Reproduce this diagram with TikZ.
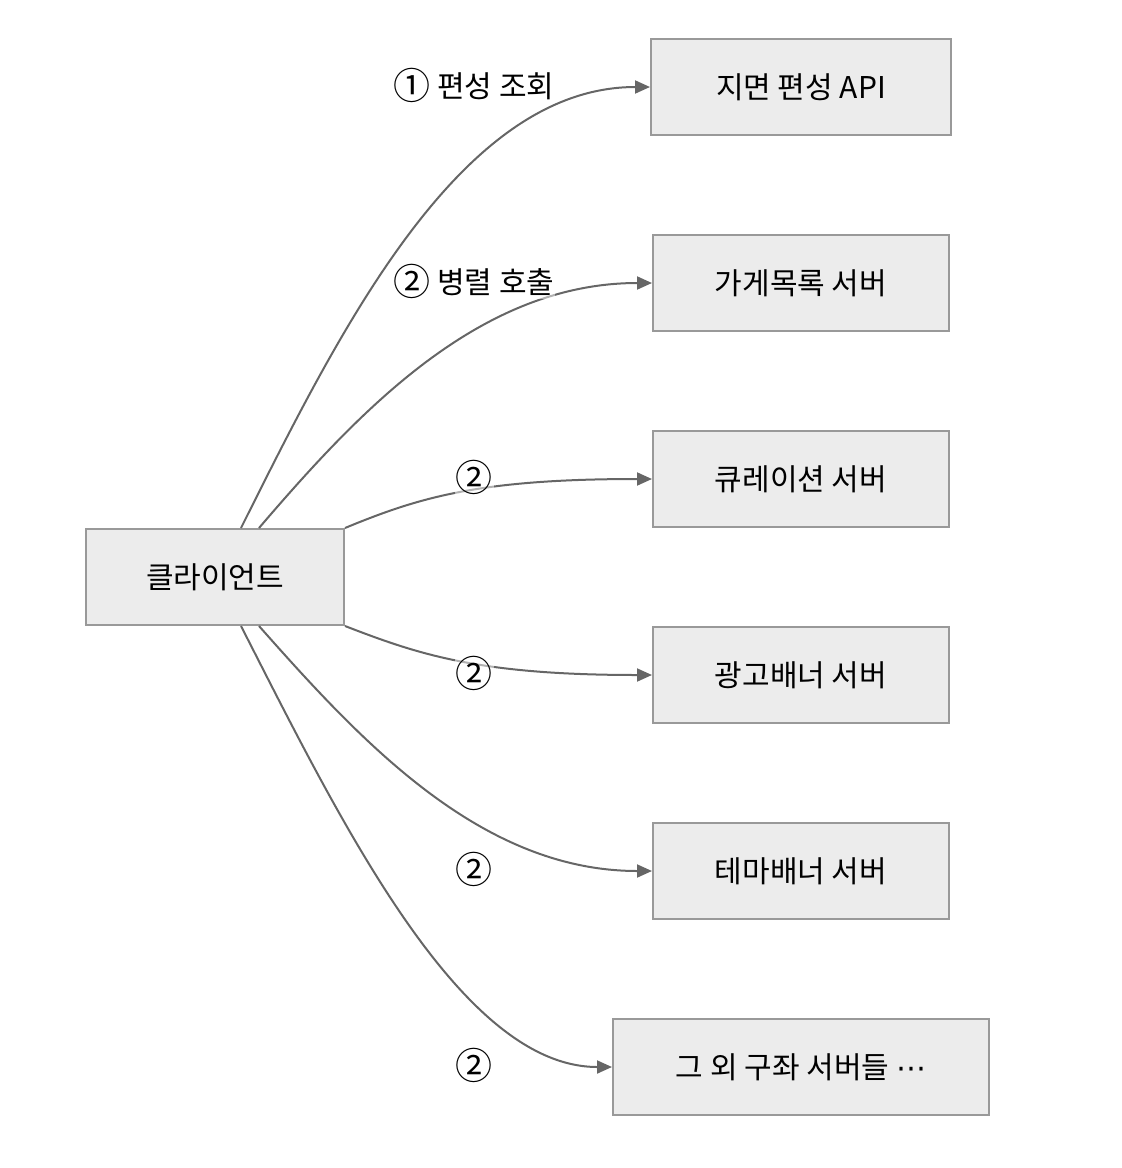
\documentclass[tikz,border=0pt]{standalone}
\usepackage{fontspec}
\setmainfont{Noto Sans CJK KR}
\newfontfamily\symfont{DejaVu Sans}
\usetikzlibrary{positioning,arrows.meta}
\definecolor{BoxFill}{HTML}{ECECEC}
\definecolor{BoxLine}{HTML}{999999}
\definecolor{EdgeGray}{HTML}{666666}
\newcommand{\bignum}[1]{{\fontsize{37}{37}\selectfont\raisebox{-2pt}{#1}}}

\begin{document}
\begin{tikzpicture}[x=1pt,y=-1pt,>={Triangle[length=15pt,width=13pt]},node distance=98pt]
  \tikzstyle{srv}=[draw=BoxLine,fill=BoxFill,line width=2pt,
    minimum height=96pt,minimum width=296pt,inner sep=0pt,
    font=\fontsize{30}{34}\selectfont]
  \tikzstyle{call}=[->,line width=2pt,color=EdgeGray]
  \tikzstyle{tag}=[fill=white,fill opacity=0.5,text opacity=1,inner sep=1pt,
    font=\fontsize{30}{34}\selectfont]
  \useasboundingbox (0,0) rectangle (1122,1168);
  \node[srv,minimum width=258pt] (client) at (215,577) {클라이언트};
  \node[srv,minimum width=300pt] (api) at (801,87) {지면 편성 API};
  \node[srv,below=of api] (shops) {가게목록 서버};
  \node[srv,below=of shops] (curation) {큐레이션 서버};
  \node[srv,below=of curation] (adbanner) {광고배너 서버};
  \node[srv,below=of adbanner] (themebanner) {테마배너 서버};
  \node[srv,minimum width=376pt,below=of themebanner] (others) {그 외 구좌 서버들 {\symfont ⋯}};
  % calls from the client
  \draw[call] ([xshift=26pt]client.north) .. controls (340,330) and (460,87) .. (api.west);
  \draw[call] ([xshift=44pt]client.north) .. controls (360,410) and (480,283) .. (shops.west);
  \draw[call] (client.north east) .. controls (420,497) and (480,479) .. (curation.west);
  \draw[call] (client.south east) .. controls (420,655) and (480,675) .. (adbanner.west);
  \draw[call] ([xshift=44pt]client.south) .. controls (360,740) and (480,871) .. (themebanner.west);
  \draw[call] ([xshift=26pt]client.south) .. controls (340,820) and (460,1067) .. (others.west);
  % labels
  \node[tag] (t1) at (474,85) {\bignum{①} 편성 조회};
  \node[tag] (t2) at (474,281) {\bignum{②} 병렬 호출};
  \node[tag] (t3) at (474,477) {\bignum{②}};
  \node[tag] (t4) at (474,673) {\bignum{②}};
  \node[tag] (t5) at (474,869) {\bignum{②}};
  \node[tag] (t6) at (474,1065) {\bignum{②}};
\end{tikzpicture}
\end{document}
